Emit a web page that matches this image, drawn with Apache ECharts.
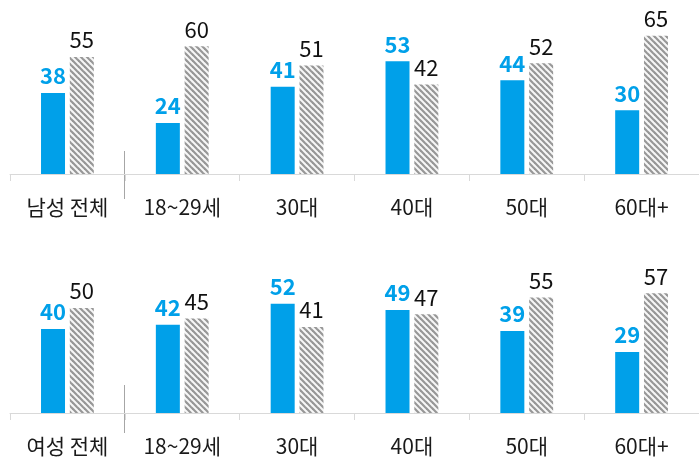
<html>

<head>
  <meta charset="utf-8">
  <title>성별 연령별</title>
  <script src="https://cdn.jsdelivr.net/npm/echarts@6/dist/echarts.min.js"></script>
  <style>
    html,
    body {
      width: 100%;
      height: 100%;
      margin: 0;
      background: #fff;
    }

    #chart {
      width: 699px;
      height: 463px;
    }
  </style>
</head>

<body>
  <div id="chart"></div>
  <script>
    var maleCats = ['남성 전체', '18~29세', '30대', '40대', '50대', '60대+'];
    var femaleCats = ['여성 전체', '18~29세', '30대', '40대', '50대', '60대+'];
    var maleBlue = [38, 24, 41, 53, 44, 30];
    var maleGray = [55, 60, 51, 42, 52, 65];
    var femaleBlue = [40, 42, 52, 49, 39, 29];
    var femaleGray = [50, 45, 41, 47, 55, 57];

    var FONT = '"Noto Sans CJK KR", "Noto Sans", sans-serif';
    var BLUE = '#00a0e9';

    // hatch pattern for the gray bars
    function hatch() {
      var s = 6;
      var c = document.createElement('canvas');
      c.width = s;
      c.height = s;
      var ctx = c.getContext('2d');
      ctx.fillStyle = '#f7f7f7';
      ctx.fillRect(0, 0, s, s);
      ctx.strokeStyle = '#979797';
      ctx.lineWidth = 2.2;
      [-s, 0, s].forEach(function (o) {
        ctx.beginPath();
        ctx.moveTo(o - 1, -1);
        ctx.lineTo(o + s + 1, s + 1);
        ctx.stroke();
      });
      return c;
    }
    var pattern = { image: hatch(), repeat: 'repeat' };

    function xAx(idx, cats) {
      return {
        type: 'category',
        gridIndex: idx,
        data: cats,
        axisLine: { lineStyle: { color: '#d9d9d9', width: 1 } },
        axisTick: { show: true, length: 7, lineStyle: { color: '#d9d9d9' } },
        axisLabel: { color: '#1a1a1a', fontSize: 21, fontFamily: FONT, margin: 23 }
      };
    }

    function yAx(idx) {
      return {
        type: 'value',
        gridIndex: idx,
        min: 0,
        max: 70,
        show: false,
        splitLine: { show: false }
      };
    }

    function blueSeries(idx, vals) {
      return {
        type: 'bar',
        xAxisIndex: idx,
        yAxisIndex: idx,
        data: vals,
        barWidth: 24,
        barGap: '20%',
        itemStyle: { color: BLUE },
        label: {
          show: true,
          position: 'top',
          distance: 6,
          color: BLUE,
          fontSize: 22,
          fontWeight: 'bold',
          fontFamily: FONT
        }
      };
    }

    function graySeries(idx, vals) {
      return {
        type: 'bar',
        xAxisIndex: idx,
        yAxisIndex: idx,
        data: vals,
        barWidth: 24,
        barGap: '20%',
        itemStyle: { color: pattern },
        label: {
          show: true,
          position: 'top',
          distance: 6,
          color: '#111',
          fontSize: 22,
          fontFamily: FONT
        }
      };
    }

    var myChart = echarts.init(document.getElementById('chart'));
    var option = {
      animation: false,
      grid: [
        { left: 10, right: -3, top: 25, bottom: 289 },
        { left: 10, right: -3, top: 266, bottom: 50 }
      ],
      xAxis: [xAx(0, maleCats), xAx(1, femaleCats)],
      yAxis: [yAx(0), yAx(1)],
      series: [
        blueSeries(0, maleBlue),
        graySeries(0, maleGray),
        blueSeries(1, femaleBlue),
        graySeries(1, femaleGray)
      ],
      graphic: [
        { type: 'line', shape: { x1: 124.5, y1: 151, x2: 124.5, y2: 199 }, style: { stroke: '#a6a6a6', lineWidth: 1 } },
        { type: 'line', shape: { x1: 124.5, y1: 385, x2: 124.5, y2: 433 }, style: { stroke: '#a6a6a6', lineWidth: 1 } }
      ]
    };
    myChart.setOption(option);
  </script>
</body>

</html>
